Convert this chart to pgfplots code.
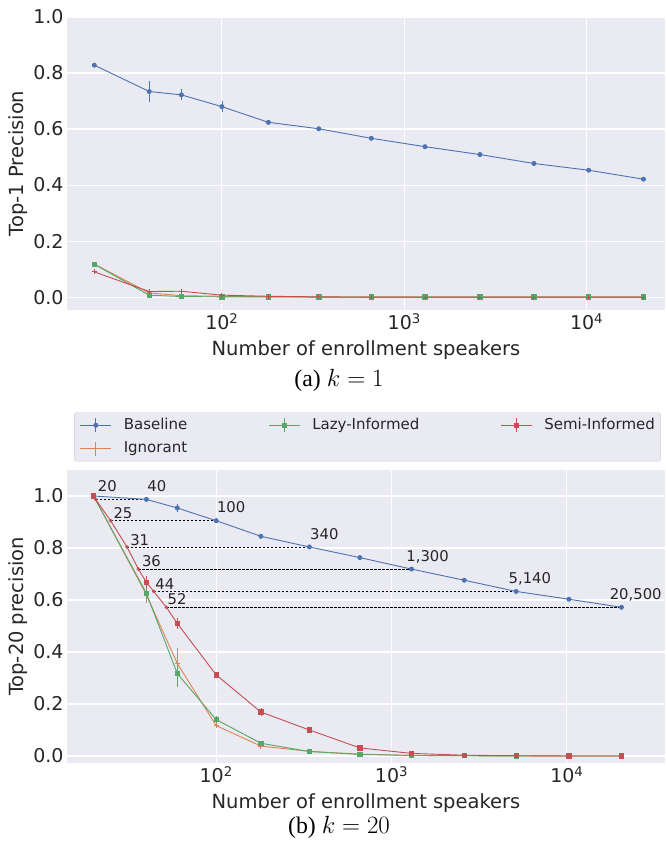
\documentclass[border=0pt]{standalone}
\usepackage{fontspec}
\setmainfont{DejaVu Sans}
\newfontfamily\capfont{Liberation Serif}
\usepackage{pgfplots}
\pgfplotsset{compat=1.18}

\definecolor{sbblue}{HTML}{4C72B0}
\definecolor{sborange}{HTML}{DD8452}
\definecolor{sbgreen}{HTML}{55A868}
\definecolor{sbred}{HTML}{C44E52}
\definecolor{sbbg}{HTML}{EAEAF2}
\definecolor{sbtext}{HTML}{262626}

\tikzset{
  pbase/.style={sbblue, line width=0.9pt, mark=*, mark size=2pt},
  pign/.style={sborange, line width=0.9pt, mark=+, mark size=2.5pt},
  plazy/.style={sbgreen, line width=0.9pt, mark=square*, mark size=2.2pt},
  psemi/.style={sbred, line width=0.9pt, mark=square*, mark size=2.2pt},
  psemitop/.style={sbred, line width=0.9pt, mark=+, mark size=2.5pt},
  ann/.style={anchor=base west, inner sep=0pt, font=\fontsize{14.8}{17}\selectfont, text=sbtext},
  dline/.style={black, line width=0.6pt, dash pattern=on 2.5pt off 1.5pt},
}

\begin{document}
\begin{tikzpicture}
\path[use as bounding box] (0pt,0pt) rectangle (665pt,-851pt);

% (a) k = 1
\begin{axis}[
  at={(67pt,-17pt)}, anchor=north west,
  scale only axis, width=598pt, height=293pt,
  xmode=log,
  xmin=14.16, xmax=26900, ymin=-0.046, ymax=1.0,
  axis background/.style={fill=sbbg},
  axis line style={draw=none},
  tick style={draw=none},
  major tick length=0pt,
  minor xtick={},
  grid=major,
  major grid style={white, line width=1.1pt},
  xtick={100,1000,10000},
  xticklabels={10\textsuperscript{2},10\textsuperscript{3},10\textsuperscript{4}},
  ytick={0,0.2,0.4,0.6,0.8,1},
  yticklabel style={/pgf/number format/fixed, /pgf/number format/fixed zerofill,
    /pgf/number format/precision=1, /pgf/number format/assume math mode=true},
  tick label style={font=\fontsize{19}{22}\selectfont, text=sbtext},
  label style={font=\fontsize{19.5}{22}\selectfont, text=sbtext},
  xlabel style={at={(axis description cs:0.5,0)}, anchor=center, yshift=-40pt},
  ylabel style={at={(axis description cs:-0.082,0.5)}, anchor=center},
  xlabel={Number of enrollment speakers},
  ylabel={Top-1 Precision},
  clip=false,
]
\addplot[pbase, error bars/y dir=both, error bars/y explicit, error bars/error mark=none] coordinates {
  (20,0.828) +- (0,0.004) (40,0.734) +- (0,0.038) (60,0.722) +- (0,0.02)
  (100,0.680) +- (0,0.02) (180,0.624) +- (0,0.01) (340,0.601) +- (0,0.004)
  (660,0.567) +- (0,0.003) (1300,0.537) +- (0,0.003) (2600,0.509) +- (0,0.003)
  (5140,0.477) +- (0,0.003) (10260,0.453) +- (0,0.003) (20500,0.421) +- (0,0.003)
};
\addplot[pign] coordinates {
  (20,0.118) (40,0.015) (60,0.005) (100,0.003) (180,0.001) (340,0)
  (660,0) (1300,0) (2600,0) (5140,0) (10260,0) (20500,0)
};
\addplot[plazy] coordinates {
  (20,0.117) (40,0.007) (60,0.002) (100,0.001) (180,0.001) (340,0)
  (660,0) (1300,0) (2600,0) (5140,0) (10260,0) (20500,0)
};
\addplot[psemitop, error bars/y dir=both, error bars/y explicit, error bars/error mark=none] coordinates {
  (20,0.09) +- (0,0.002) (40,0.02) +- (0,0.003) (60,0.021) +- (0,0.006)
  (100,0.007) +- (0,0.002) (180,0.003) +- (0,0.001) (340,0.001) +- (0,0)
  (660,0) +- (0,0) (1300,0) +- (0,0) (2600,0) +- (0,0)
  (5140,0) +- (0,0) (10260,0) +- (0,0) (20500,0) +- (0,0)
};
\end{axis}

% (b) k = 20
\begin{axis}[
  at={(67pt,-470pt)}, anchor=north west,
  scale only axis, width=598pt, height=293pt,
  xmode=log,
  xmin=14.1, xmax=36300, ymin=-0.027, ymax=1.1,
  axis background/.style={fill=sbbg},
  axis line style={draw=none},
  tick style={draw=none},
  major tick length=0pt,
  minor xtick={},
  grid=major,
  major grid style={white, line width=1.1pt},
  xtick={100,1000,10000},
  xticklabels={10\textsuperscript{2},10\textsuperscript{3},10\textsuperscript{4}},
  ytick={0,0.2,0.4,0.6,0.8,1},
  yticklabel style={/pgf/number format/fixed, /pgf/number format/fixed zerofill,
    /pgf/number format/precision=1, /pgf/number format/assume math mode=true},
  tick label style={font=\fontsize{19}{22}\selectfont, text=sbtext},
  label style={font=\fontsize{19.5}{22}\selectfont, text=sbtext},
  xlabel style={at={(axis description cs:0.5,0)}, anchor=center, yshift=-40pt},
  ylabel style={at={(axis description cs:-0.082,0.5)}, anchor=center},
  xlabel={Number of enrollment speakers},
  ylabel={Top-20 precision},
  clip=false,
  legend columns=3,
  legend cell align=left,
  legend image code/.code={
    \draw[#1, mark=none] (0pt,0pt) -- (31pt,0pt);
    \draw[#1, mark=none] (15.5pt,-7pt) -- (15.5pt,7pt);
    \draw[#1, only marks] plot coordinates {(15.5pt,0pt)};
  },
  legend style={at={(0.012,1.196)}, anchor=north west,
    fill=sbbg, draw=white!80!black, rounded corners=2pt,
    inner xsep=5.5pt, inner ysep=5pt,
    font=\fontsize{15}{18}\selectfont, text=sbtext,
    nodes={inner sep=0pt, text height=11pt, text depth=3pt},
    /tikz/row sep=8.7pt,
    /tikz/every odd column/.append style={column sep=12pt},
    /tikz/every even column/.append style={column sep=81pt}},
]
\addlegendimage{pbase}
\addlegendentry{Baseline}
\addlegendimage{plazy}
\addlegendentry{Lazy-Informed}
\addlegendimage{psemi}
\addlegendentry{Semi-Informed}
\addlegendimage{pign}
\addlegendentry{Ignorant}

% matching lines
\addplot[dline, forget plot] coordinates {(20.55,0.987) (40,0.987)};
\addplot[dline, forget plot] coordinates {(25,0.905) (100,0.905)};
\addplot[dline, forget plot] coordinates {(31,0.804) (340,0.804)};
\addplot[dline, forget plot] coordinates {(36,0.719) (1300,0.719)};
\addplot[dline, forget plot] coordinates {(44,0.633) (5140,0.633)};
\addplot[dline, forget plot] coordinates {(52,0.572) (20500,0.572)};

\addplot[pbase, forget plot, error bars/y dir=both, error bars/y explicit, error bars/error mark=none] coordinates {
  (20,1.0) +- (0,0.002) (40,0.987) +- (0,0.004) (60,0.954) +- (0,0.015)
  (100,0.905) +- (0,0.01) (180,0.845) +- (0,0.004) (340,0.804) +- (0,0.003)
  (660,0.763) +- (0,0.003) (1300,0.719) +- (0,0.003) (2600,0.676) +- (0,0.003)
  (5140,0.633) +- (0,0.003) (10260,0.603) +- (0,0.003) (20500,0.572) +- (0,0.003)
};
\addplot[pign, forget plot, error bars/y dir=both, error bars/y explicit, error bars/error mark=none] coordinates {
  (20,1.0) +- (0,0) (40,0.62) +- (0,0.03) (60,0.356) +- (0,0.06)
  (100,0.117) +- (0,0.01) (180,0.038) +- (0,0.005) (340,0.018) +- (0,0.002)
  (660,0.007) +- (0,0) (1300,0.002) +- (0,0) (2600,0.001) +- (0,0)
  (5140,0) +- (0,0) (10260,0) +- (0,0) (20500,0) +- (0,0)
};
\addplot[plazy, forget plot, error bars/y dir=both, error bars/y explicit, error bars/error mark=none] coordinates {
  (20,1.0) +- (0,0) (40,0.626) +- (0,0.03) (60,0.317) +- (0,0.05)
  (100,0.14) +- (0,0.015) (180,0.049) +- (0,0.006) (340,0.017) +- (0,0.002)
  (660,0.006) +- (0,0) (1300,0.002) +- (0,0) (2600,0.001) +- (0,0)
  (5140,0) +- (0,0) (10260,0) +- (0,0) (20500,0) +- (0,0)
};
% semi-informed line through all points, then its markers
\addplot[sbred, line width=0.9pt, no marks, forget plot] coordinates {
  (20,1.0) (20.55,0.987) (25,0.905) (31,0.804) (36,0.719) (40,0.668)
  (44,0.633) (52,0.572) (60,0.51) (100,0.312) (180,0.169) (340,0.10)
  (660,0.031) (1300,0.01) (2600,0.003) (5140,0.001) (10260,0) (20500,0)
};
\addplot[psemi, only marks, forget plot, error bars/y dir=both, error bars/y explicit, error bars/error mark=none] coordinates {
  (20,1.0) +- (0,0) (40,0.668) +- (0,0.025) (60,0.51) +- (0,0.022)
  (100,0.312) +- (0,0.008) (180,0.169) +- (0,0.015) (340,0.10) +- (0,0.005)
  (660,0.031) +- (0,0.003) (1300,0.01) +- (0,0.002) (2600,0.003) +- (0,0)
  (5140,0.001) +- (0,0) (10260,0) +- (0,0) (20500,0) +- (0,0)
};
\addplot[sbred, only marks, mark=*, mark size=1.6pt, forget plot] coordinates {
  (20.55,0.987) (25,0.905) (31,0.804) (36,0.719) (44,0.633) (52,0.572)
};

\node[ann] at (axis cs:21.1,1.016) {20};
\node[ann] at (axis cs:40.4,1.016) {40};
\node[ann] at (axis cs:100.9,0.935) {100};
\node[ann] at (axis cs:343,0.831) {340};
\node[ann] at (axis cs:1213,0.747) {1,300};
\node[ann] at (axis cs:4645,0.662) {5,140};
\node[ann] at (axis cs:17540,0.603) {20,500};
\node[ann] at (axis cs:25.9,0.914) {25};
\node[ann] at (axis cs:32.3,0.809) {31};
\node[ann] at (axis cs:37.7,0.728) {36};
\node[ann] at (axis cs:44.9,0.642) {44};
\node[ann] at (axis cs:52.7,0.581) {52};
\end{axis}

\node[font=\capfont\fontsize{23.8}{27}\selectfont, text=black] at (339pt,-380pt) {(a) $k=1$};
\node[font=\capfont\fontsize{23.8}{27}\selectfont, text=black] at (339pt,-827pt) {(b) $k=20$};
\end{tikzpicture}
\end{document}
